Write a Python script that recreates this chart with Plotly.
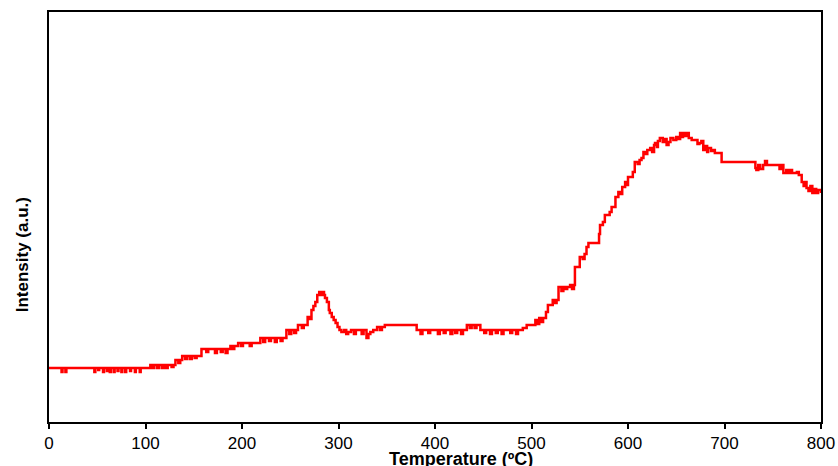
import plotly.graph_objects as go

# Temperature (ºC) and intensity (a.u.)
temperature = [0, 13, 14, 17, 18, 47, 48, 51, 52, 56, 57, 60, 61, 63, 64, 67, 68, 71, 72, 75, 76, 79, 80, 84, 85, 89, 90, 94, 95,
               105, 107, 109, 112, 114, 117, 119, 121, 123, 127, 129,
               131, 134, 136, 138, 141, 143, 146, 148, 151, 153, 156,
               158, 163, 165, 170, 172, 174, 178, 180, 183, 185,
               188, 190, 192, 196, 199, 201, 205, 208, 210, 214,
               219, 222, 224, 228, 230, 234, 236, 240, 242,
               246, 249, 251, 254, 256,
               258, 262, 264, 268, 270, 272, 274, 276, 278, 280, 282, 283, 285, 286, 288, 290, 291, 293, 295, 297, 299,
               301, 303, 306, 308, 310, 313, 316, 318, 322, 324, 326, 329, 331, 333, 336, 340, 343, 345, 348,
               353, 377, 381, 385, 387, 393, 395, 399, 403, 405, 409, 411, 416, 418, 421, 423, 427, 429,
               433, 436, 438, 441, 443, 447, 451, 453, 457, 459, 463, 465, 469, 471, 476, 478, 480, 484, 486,
               491, 495, 502, 504, 506, 508, 510, 512, 515, 517, 522, 524, 526, 528, 531, 533, 535, 537, 540, 542, 544,
               545, 548, 550, 553, 555, 557, 559, 568, 570, 571, 574, 576, 581, 583, 587, 590, 592, 594, 597, 599,
               600, 603, 605, 607, 610, 612, 614, 616, 618, 620, 623, 625, 627, 628, 630, 631, 633, 636, 638, 640,
               642, 644, 647, 650, 652, 654, 656, 657, 659, 661, 663, 666, 670, 672, 674, 676, 678, 680, 682, 683,
               686, 688, 690, 694, 697, 730, 732, 733, 735, 737, 740, 742, 744, 755, 757, 759, 761, 764, 766, 768,
               770, 775, 777, 780, 782, 784, 785, 787, 789, 791, 793, 795, 797, 800]
intensity = [54, 50, 54, 50, 54, 50, 54, 52, 54, 50, 54, 51, 54, 50, 54, 50, 54, 51, 54, 50, 54, 50, 54, 51, 54, 50, 54, 50, 54,
             57, 54, 57, 54, 57, 54, 57, 54, 57, 55, 57,
             62, 59, 62, 66, 63, 66, 63, 66, 64, 66, 66,
             73, 70, 73, 73, 69, 73, 70, 73, 69, 73,
             76, 73, 76, 79, 76, 79, 79, 76, 79, 79,
             84, 80, 84, 81, 84, 80, 84, 81, 84,
             92, 88, 92, 89, 92,
             97, 94, 97, 105, 103, 112, 116, 120, 127, 130, 127, 130, 127, 124, 120, 112, 109, 105, 102, 99, 95,
             92, 90, 92, 88, 90, 92, 88, 92, 92, 88, 92, 84, 88, 90, 92, 95, 92, 95, 97,
             97, 97, 92, 88, 92, 89, 92, 92, 88, 92, 89, 92, 88, 92, 89, 92, 88, 92,
             97, 94, 97, 94, 97, 92, 89, 92, 88, 92, 89, 92, 88, 92, 92, 89, 92, 88, 92,
             94, 97, 97, 102, 98, 104, 100, 104, 110, 117, 122, 119, 122, 135, 131, 135, 133, 135, 137, 133, 137,
             155, 155, 165, 163, 168, 175, 179, 179, 188, 197, 200, 207, 210, 215, 225, 230, 228, 235, 240, 237,
             245, 245, 250, 260, 258, 262, 264, 270, 268, 272, 274, 270, 277, 279, 275, 281, 284, 280, 283, 277,
             280, 284, 282, 285, 283, 289, 285, 289, 286, 289, 284, 282, 282, 278, 279, 281, 272, 276, 270, 274,
             271, 272, 269, 269, 260, 260, 254, 252, 257, 253, 257, 261, 257, 257, 253, 257, 249, 252, 249, 252,
             249, 250, 247, 240, 236, 240, 234, 231, 236, 229, 233, 229, 232, 229]

x_ticks = [0, 100, 200, 300, 400, 500, 600, 700, 800]
x_title = "Temperature (ºC)"
y_title = "Intensity (a.u.)"

font_family = "Liberation Sans, Arial, sans-serif"

fig = go.Figure()
fig.add_trace(go.Scatter(
    x=temperature, y=intensity, mode="lines",
    line=dict(color="#FF0000", width=2.5, shape="hv"),
    showlegend=False, hoverinfo="skip",
))

fig.update_layout(
    autosize=False,
    width=838, height=466,
    margin=dict(l=49, r=17, t=12, b=44),
    paper_bgcolor="white", plot_bgcolor="white",
    font=dict(family=font_family, color="black"),
    xaxis=dict(
        range=[0, 800], tickvals=x_ticks, ticktext=[str(t) for t in x_ticks],
        ticks="outside", ticklen=5, tickwidth=2, tickcolor="black",
        showline=True, linecolor="black", linewidth=2, mirror=True,
        showgrid=False, zeroline=False, automargin=False,
        tickfont=dict(size=17, family=font_family, color="black"),
    ),
    yaxis=dict(
        range=[0, 410], showticklabels=False, ticks="",
        showline=True, linecolor="black", linewidth=2, mirror=True,
        showgrid=False, zeroline=False, automargin=False,
    ),
    annotations=[
        dict(text="<b>" + x_title + "</b>", xref="paper", yref="paper",
             x=0.534, y=-0.062, xanchor="center", yanchor="top", showarrow=False,
             font=dict(size=18, family=font_family, color="black")),
        dict(text="<b>" + y_title + "</b>", xref="paper", yref="paper",
             x=-0.035, y=0.409, xanchor="center", yanchor="middle", showarrow=False,
             textangle=-90, font=dict(size=17, family=font_family, color="black")),
    ],
)

fig.write_html(
    "out.html",
    config={"responsive": False, "displayModeBar": False},
    post_script="document.body.style.margin='0';document.body.style.overflow='hidden';",
)
